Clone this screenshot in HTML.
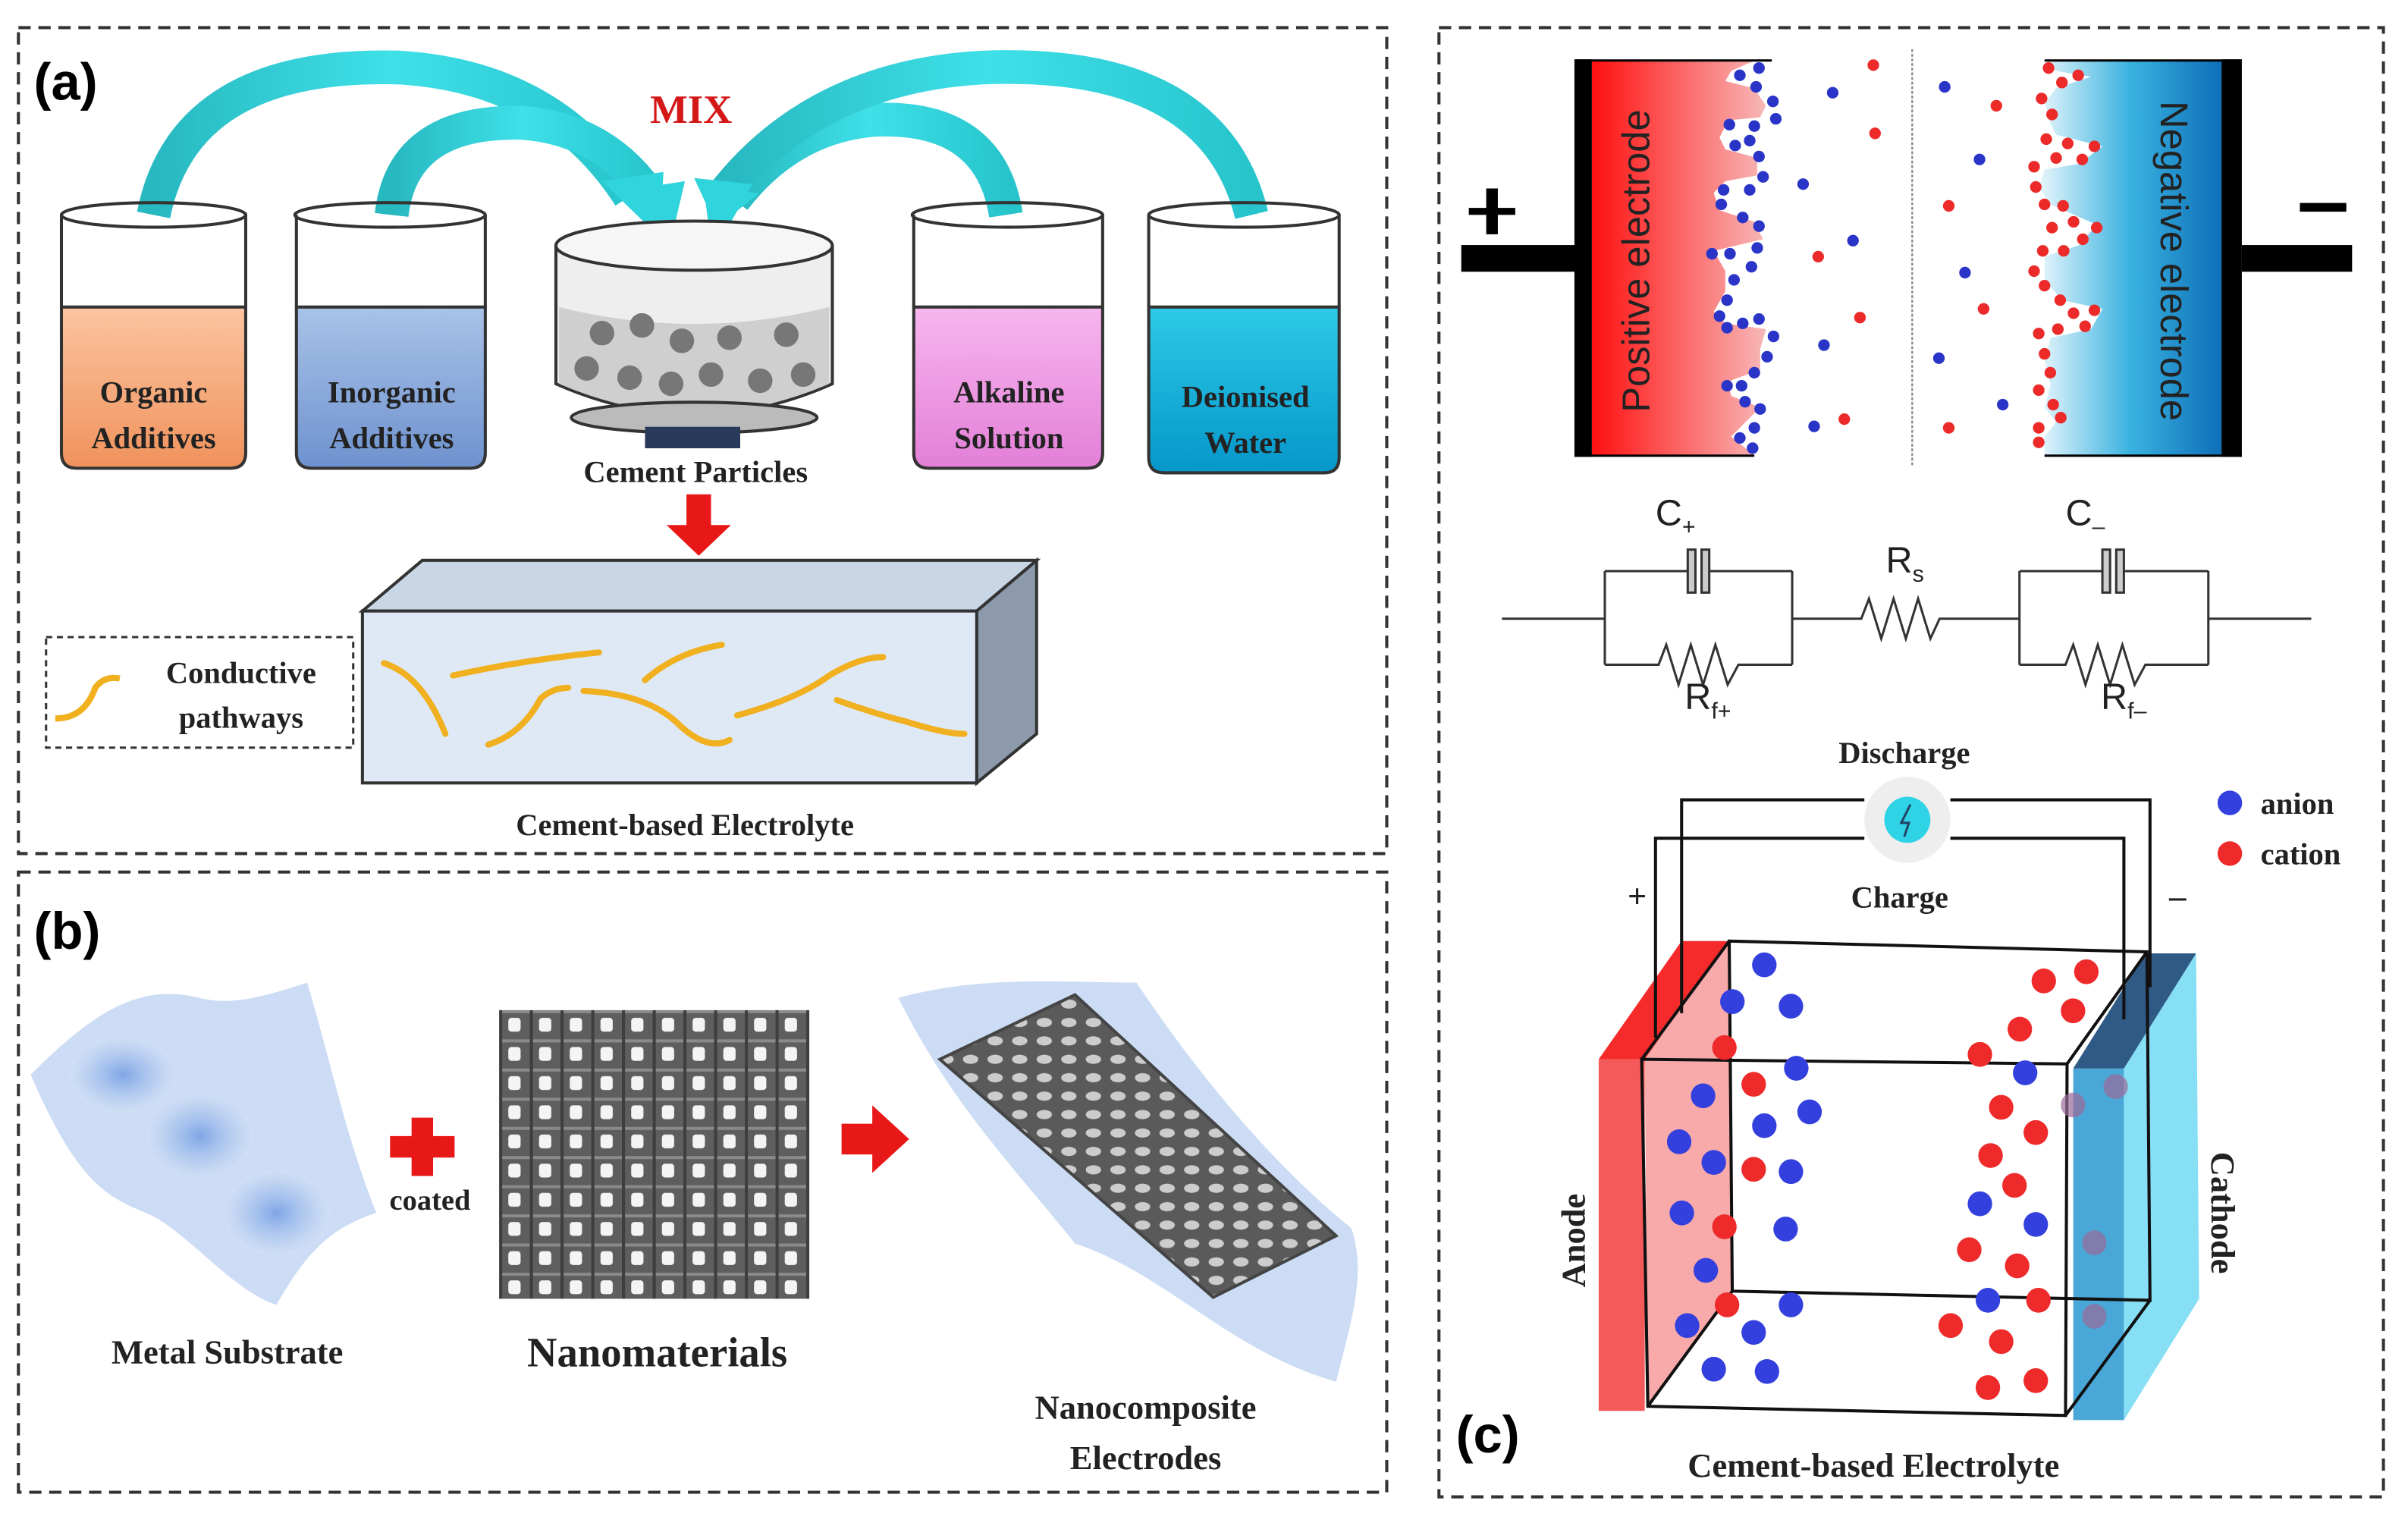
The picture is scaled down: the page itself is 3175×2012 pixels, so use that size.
<!DOCTYPE html>
<html><head><meta charset="utf-8"><style>
html,body{margin:0;padding:0;background:#fff;}
svg{display:block;}
.s{font-family:"Liberation Serif",serif;font-weight:bold;fill:#222;}
.a{font-family:"Liberation Sans",sans-serif;}
</style></head><body>
<svg width="3175" height="2012" viewBox="0 0 1568 994" preserveAspectRatio="none" xmlns="http://www.w3.org/2000/svg">
<defs>
<linearGradient id="cy" x1="0" y1="0" x2="1" y2="0"><stop offset="0" stop-color="#27b8c0"/><stop offset="0.5" stop-color="#3fe0e8"/><stop offset="1" stop-color="#27c4cc"/></linearGradient>
<linearGradient id="org" x1="0" y1="0" x2="0" y2="1"><stop offset="0" stop-color="#fbc4a0"/><stop offset="1" stop-color="#f0925c"/></linearGradient>
<linearGradient id="ino" x1="0" y1="0" x2="0" y2="1"><stop offset="0" stop-color="#a9c2e8"/><stop offset="1" stop-color="#6e92cf"/></linearGradient>
<linearGradient id="alk" x1="0" y1="0" x2="0" y2="1"><stop offset="0" stop-color="#f7b6ee"/><stop offset="1" stop-color="#e37fd8"/></linearGradient>
<linearGradient id="dei" x1="0" y1="0" x2="0" y2="1"><stop offset="0" stop-color="#2ec9e8"/><stop offset="1" stop-color="#0597c9"/></linearGradient>
<linearGradient id="pos" x1="0" y1="0" x2="1" y2="0"><stop offset="0" stop-color="#ff1010"/><stop offset="1" stop-color="#f8b8b8"/></linearGradient>
<linearGradient id="neg" x1="0" y1="0" x2="1" y2="0"><stop offset="0" stop-color="#e8f6fc"/><stop offset="0.5" stop-color="#3ab2e0"/><stop offset="1" stop-color="#0e6fb8"/></linearGradient>
<radialGradient id="blob"><stop offset="0" stop-color="#7fa6e6"/><stop offset="1" stop-color="#d2e0f5" stop-opacity="0.6"/></radialGradient>
<pattern id="nano" x="325" y="658" width="20" height="19" patternUnits="userSpaceOnUse">
<rect width="20" height="19" fill="#5e5e5e"/><rect x="6" y="5" width="8" height="9" rx="2" fill="#f4f4f4"/><rect x="0" y="0" width="20" height="2" fill="#8a8a8a"/><rect x="0" y="0" width="2" height="19" fill="#3e3e3e"/></pattern>
<pattern id="nano2" width="16" height="12" patternUnits="userSpaceOnUse">
<rect width="16" height="12" fill="#5a5a5a"/><ellipse cx="8" cy="6" rx="5" ry="3" fill="#ccc"/></pattern>
</defs>

<g fill="none" stroke="#333" stroke-width="2" stroke-dasharray="8,5">
<rect x="12" y="18" width="891" height="538"/>
<rect x="12" y="568" width="891" height="404"/>
<rect x="937" y="18" width="615" height="957"/>
</g>

<text x="22" y="65" class="a" font-size="34" font-weight="bold">(a)</text>
<text x="450" y="80" class="s" font-size="26" text-anchor="middle" style="fill:#d41818">MIX</text>
<g fill="none" stroke="url(#cy)" stroke-width="22" stroke-linecap="butt">
<path d="M100,140 Q120,40 260,44 Q360,50 410,128"/>
<path d="M255,140 Q262,78 340,80 Q395,84 425,130"/>
<path d="M655,140 Q645,75 570,78 Q515,82 478,130"/>
<path d="M815,140 Q790,38 640,44 Q530,50 470,128"/>
</g>
<g fill="#30d4dc">
<polygon points="392,118 432,112 430,155"/>
<polygon points="408,124 446,118 438,152"/>
<polygon points="458,120 494,126 462,152"/>
<polygon points="452,116 490,120 470,155"/>
</g>
<g stroke="#333" stroke-width="2">
<path d="M40,200 L40,295 Q40,305 50,305 L150,305 Q160,305 160,295 L160,200 Z" fill="url(#org)"/>
<path d="M193,200 L193,295 Q193,305 203,305 L306,305 Q316,305 316,295 L316,200 Z" fill="url(#ino)"/>
<path d="M595,200 L595,295 Q595,305 605,305 L708,305 Q718,305 718,295 L718,200 Z" fill="url(#alk)"/>
<path d="M748,200 L748,298 Q748,308 758,308 L862,308 Q872,308 872,298 L872,200 Z" fill="url(#dei)"/>
</g>
<g fill="none" stroke="#333" stroke-width="2">
<path d="M40,140 L40,200 M160,140 L160,200"/><ellipse cx="100" cy="140" rx="60" ry="8"/>
<path d="M193,140 L193,200 M316,140 L316,200"/><ellipse cx="254" cy="140" rx="62" ry="8"/>
<path d="M595,140 L595,200 M718,140 L718,200"/><ellipse cx="656" cy="140" rx="62" ry="8"/>
<path d="M748,140 L748,200 M872,140 L872,200"/><ellipse cx="810" cy="140" rx="62" ry="8"/>
</g>
<g class="s" font-size="20" text-anchor="middle">
<text x="100" y="262">Organic</text><text x="100" y="292">Additives</text>
<text x="255" y="262">Inorganic</text><text x="255" y="292">Additives</text>
<text x="657" y="262">Alkaline</text><text x="657" y="292">Solution</text>
<text x="811" y="265">Deionised</text><text x="811" y="295">Water</text>
</g>
<path d="M362,160 L362,250 Q452,290 542,250 L542,160" fill="#eee" stroke="#333" stroke-width="2"/>
<path d="M364,200 L364,250 Q452,288 540,250 L540,200 Q452,222 364,200Z" fill="#cfcfcf"/>
<ellipse cx="452" cy="160" rx="90" ry="16" fill="#f6f6f6" stroke="#333" stroke-width="2"/>
<ellipse cx="452" cy="272" rx="80" ry="10" fill="#bbb" stroke="#333" stroke-width="2"/>
<rect x="420" y="278" width="62" height="14" fill="#2a3a5a"/>
<g fill="#777">
<circle cx="392" cy="217" r="8"/><circle cx="418" cy="212" r="8"/><circle cx="444" cy="222" r="8"/><circle cx="475" cy="220" r="8"/><circle cx="512" cy="218" r="8"/>
<circle cx="382" cy="240" r="8"/><circle cx="410" cy="246" r="8"/><circle cx="437" cy="250" r="8"/><circle cx="463" cy="244" r="8"/><circle cx="495" cy="248" r="8"/><circle cx="523" cy="244" r="8"/>
</g>
<text x="453" y="314" class="s" font-size="20" text-anchor="middle">Cement Particles</text>
<path d="M447,322 L463,322 L463,342 L476,342 L455,362 L434,342 L447,342Z" fill="#e81818"/>
<polygon points="236,398 275,365 675,365 636,398" fill="#c9d6e6" stroke="#333" stroke-width="2"/>
<polygon points="636,398 675,365 675,478 636,510" fill="#8c9aab" stroke="#333" stroke-width="2"/>
<rect x="236" y="398" width="400" height="112" fill="#dfe9f6" stroke="#333" stroke-width="2"/>
<g fill="none" stroke="#f0b020" stroke-width="4" stroke-linecap="round">
<path d="M250,432 Q275,440 290,478"/>
<path d="M295,440 Q340,430 390,425"/>
<path d="M318,485 Q340,478 352,455 Q360,448 370,448"/>
<path d="M380,450 Q420,452 440,470 Q460,490 475,482"/>
<path d="M420,443 Q440,425 470,420"/>
<path d="M480,466 Q520,455 540,440 Q560,428 575,428"/>
<path d="M545,456 Q570,465 590,470 Q615,478 628,478"/>
</g>
<rect x="30" y="415" width="200" height="72" fill="none" stroke="#333" stroke-width="1.5" stroke-dasharray="4,3"/>
<path d="M36,468 Q55,468 62,448 Q68,440 78,442" fill="none" stroke="#f0b020" stroke-width="4"/>
<text x="157" y="445" class="s" font-size="20" text-anchor="middle">Conductive</text>
<text x="157" y="474" class="s" font-size="20" text-anchor="middle">pathways</text>
<text x="446" y="544" class="s" font-size="20" text-anchor="middle">Cement-based Electrolyte</text>

<text x="22" y="618" class="a" font-size="34" font-weight="bold">(b)</text>
<path d="M20,700 C60,660 90,640 130,650 C150,655 170,650 200,640 C215,690 225,740 245,790 C215,800 200,815 180,850 C150,840 120,800 95,790 C70,780 50,770 20,700Z" fill="#cbdcf4"/>
<ellipse cx="80" cy="700" rx="35" ry="25" fill="url(#blob)"/>
<ellipse cx="130" cy="740" rx="35" ry="28" fill="url(#blob)"/>
<ellipse cx="180" cy="790" rx="35" ry="28" fill="url(#blob)"/>
<text x="148" y="888" class="s" font-size="22" text-anchor="middle">Metal Substrate</text>
<path d="M268,728 L282,728 L282,740 L296,740 L296,754 L282,754 L282,766 L268,766 L268,754 L254,754 L254,740 L268,740Z" fill="#e81818"/>
<text x="280" y="788" class="s" font-size="19" text-anchor="middle">coated</text>
<rect x="325" y="658" width="202" height="188" fill="url(#nano)"/>
<text x="428" y="890" class="s" font-size="27" text-anchor="middle">Nanomaterials</text>
<path d="M548,732 L568,732 L568,720 L592,742 L568,764 L568,752 L548,752Z" fill="#e81818"/>
<path d="M585,650 C640,635 690,640 740,640 C780,700 830,760 880,800 C890,830 880,860 870,900 C800,880 760,830 700,810 C660,760 620,720 585,650Z" fill="#c2d6f2" opacity="0.85"/>
<polygon points="612,690 700,648 870,805 790,845" fill="url(#nano2)" stroke="#444" stroke-width="2"/>
<text x="746" y="924" class="s" font-size="22" text-anchor="middle">Nanocomposite</text>
<text x="746" y="957" class="s" font-size="22" text-anchor="middle">Electrodes</text>

<g transform="translate(938.3,19.75) scale(0.3779,0.189)">
<path d="M260,105 L540,105 L500,140 L490,175 L540,200 L560,260 L550,300 L495,310 L480,370 L490,410 L545,440 L545,500 L490,520 L470,560 L480,620 L540,660 L555,720 L470,760 L490,830 L490,900 L470,970 L490,1010 L560,1030 L550,1100 L550,1170 L495,1210 L500,1260 L550,1300 L520,1360 L500,1400 L540,1465 L260,1465Z" fill="url(#pos)"/>
<path d="M1345,105 L1040,105 L1060,140 L1120,160 L1060,200 L1040,250 L1050,320 L1060,360 L1140,400 L1100,460 L1040,480 L1030,540 L1050,600 L1130,670 L1100,740 L1040,780 L1040,860 L1070,930 L1140,960 L1120,1030 L1050,1060 L1040,1140 L1050,1220 L1040,1300 L1060,1350 L1040,1400 L1040,1465 L1345,1465Z" fill="url(#neg)"/>
<rect x="230" y="100" width="30" height="1370" fill="#000"/>
<rect x="230" y="100" width="340" height="8" fill="#000"/>
<rect x="230" y="1462" width="310" height="8" fill="#000"/>
<rect x="35" y="740" width="200" height="92" fill="#000"/>
<rect x="48" y="612" width="80" height="24" fill="#000"/><rect x="78" y="545" width="20" height="158" fill="#000"/>
<rect x="1345" y="100" width="35" height="1370" fill="#000"/>
<rect x="1040" y="100" width="340" height="8" fill="#000"/>
<rect x="1040" y="1462" width="340" height="8" fill="#000"/>
<rect x="1380" y="740" width="190" height="92" fill="#000"/>
<rect x="1480" y="595" width="80" height="30" fill="#000"/>
<line x1="812" y1="65" x2="812" y2="1505" stroke="#888" stroke-width="3" stroke-dasharray="10,6"/>
<g fill="#2a35c8">
<ellipse cx="515" cy="155" rx="10" ry="20"/><ellipse cx="548" cy="130" rx="10" ry="20"/><ellipse cx="543" cy="195" rx="10" ry="20"/><ellipse cx="572" cy="245" rx="10" ry="20"/><ellipse cx="577" cy="305" rx="10" ry="20"/><ellipse cx="497" cy="325" rx="10" ry="20"/><ellipse cx="540" cy="330" rx="10" ry="20"/><ellipse cx="532" cy="380" rx="10" ry="20"/><ellipse cx="507" cy="397" rx="10" ry="20"/><ellipse cx="548" cy="435" rx="10" ry="20"/><ellipse cx="555" cy="505" rx="10" ry="20"/><ellipse cx="487" cy="550" rx="10" ry="20"/><ellipse cx="532" cy="550" rx="10" ry="20"/><ellipse cx="483" cy="600" rx="10" ry="20"/><ellipse cx="520" cy="645" rx="10" ry="20"/><ellipse cx="548" cy="675" rx="10" ry="20"/><ellipse cx="545" cy="750" rx="10" ry="20"/><ellipse cx="467" cy="770" rx="10" ry="20"/><ellipse cx="498" cy="770" rx="10" ry="20"/><ellipse cx="535" cy="815" rx="10" ry="20"/><ellipse cx="505" cy="860" rx="10" ry="20"/><ellipse cx="493" cy="930" rx="10" ry="20"/><ellipse cx="480" cy="985" rx="10" ry="20"/><ellipse cx="520" cy="1010" rx="10" ry="20"/><ellipse cx="548" cy="995" rx="10" ry="20"/><ellipse cx="493" cy="1025" rx="10" ry="20"/><ellipse cx="573" cy="1055" rx="10" ry="20"/><ellipse cx="562" cy="1125" rx="10" ry="20"/><ellipse cx="540" cy="1180" rx="10" ry="20"/><ellipse cx="493" cy="1225" rx="10" ry="20"/><ellipse cx="518" cy="1225" rx="10" ry="20"/><ellipse cx="524" cy="1280" rx="10" ry="20"/><ellipse cx="550" cy="1305" rx="10" ry="20"/><ellipse cx="540" cy="1370" rx="10" ry="20"/><ellipse cx="515" cy="1405" rx="10" ry="20"/><ellipse cx="537" cy="1440" rx="10" ry="20"/><ellipse cx="675" cy="215" rx="10" ry="20"/><ellipse cx="624" cy="530" rx="10" ry="20"/><ellipse cx="710" cy="725" rx="10" ry="20"/><ellipse cx="660" cy="1085" rx="10" ry="20"/><ellipse cx="643" cy="1365" rx="10" ry="20"/>
<ellipse cx="868" cy="195" rx="10" ry="20"/><ellipse cx="928" cy="445" rx="10" ry="20"/><ellipse cx="903" cy="835" rx="10" ry="20"/><ellipse cx="858" cy="1130" rx="10" ry="20"/><ellipse cx="968" cy="1290" rx="10" ry="20"/>
</g>
<g fill="#ec2a2a">
<ellipse cx="745" cy="120" rx="10" ry="20"/><ellipse cx="748" cy="355" rx="10" ry="20"/><ellipse cx="650" cy="780" rx="10" ry="20"/><ellipse cx="722" cy="990" rx="10" ry="20"/><ellipse cx="695" cy="1340" rx="10" ry="20"/>
<ellipse cx="957" cy="260" rx="10" ry="20"/><ellipse cx="875" cy="605" rx="10" ry="20"/><ellipse cx="935" cy="960" rx="10" ry="20"/><ellipse cx="875" cy="1370" rx="10" ry="20"/>
<ellipse cx="1047" cy="130" rx="10" ry="20"/><ellipse cx="1070" cy="180" rx="10" ry="20"/><ellipse cx="1098" cy="155" rx="10" ry="20"/><ellipse cx="1035" cy="235" rx="10" ry="20"/><ellipse cx="1053" cy="290" rx="10" ry="20"/><ellipse cx="1043" cy="375" rx="10" ry="20"/><ellipse cx="1080" cy="390" rx="10" ry="20"/><ellipse cx="1126" cy="400" rx="10" ry="20"/><ellipse cx="1060" cy="440" rx="10" ry="20"/><ellipse cx="1105" cy="445" rx="10" ry="20"/><ellipse cx="1022" cy="470" rx="10" ry="20"/><ellipse cx="1025" cy="540" rx="10" ry="20"/><ellipse cx="1040" cy="600" rx="10" ry="20"/><ellipse cx="1072" cy="605" rx="10" ry="20"/><ellipse cx="1053" cy="680" rx="10" ry="20"/><ellipse cx="1090" cy="660" rx="10" ry="20"/><ellipse cx="1130" cy="680" rx="10" ry="20"/><ellipse cx="1037" cy="760" rx="10" ry="20"/><ellipse cx="1073" cy="760" rx="10" ry="20"/><ellipse cx="1106" cy="720" rx="10" ry="20"/><ellipse cx="1022" cy="830" rx="10" ry="20"/><ellipse cx="1040" cy="880" rx="10" ry="20"/><ellipse cx="1067" cy="930" rx="10" ry="20"/><ellipse cx="1090" cy="975" rx="10" ry="20"/><ellipse cx="1126" cy="965" rx="10" ry="20"/><ellipse cx="1063" cy="1030" rx="10" ry="20"/><ellipse cx="1110" cy="1020" rx="10" ry="20"/><ellipse cx="1030" cy="1045" rx="10" ry="20"/><ellipse cx="1040" cy="1115" rx="10" ry="20"/><ellipse cx="1050" cy="1180" rx="10" ry="20"/><ellipse cx="1030" cy="1240" rx="10" ry="20"/><ellipse cx="1055" cy="1290" rx="10" ry="20"/><ellipse cx="1068" cy="1335" rx="10" ry="20"/><ellipse cx="1030" cy="1370" rx="10" ry="20"/><ellipse cx="1030" cy="1420" rx="10" ry="20"/>
</g>
</g>
<text transform="translate(1074,170) rotate(-90)" class="a" font-size="25" text-anchor="middle" fill="#222">Positive electrode</text>
<text transform="translate(1407,170) rotate(90)" class="a" font-size="25" text-anchor="middle" fill="#222">Negative electrode</text>

<g fill="none" stroke="#333" stroke-width="1.5">
<path d="M978,403 L1045,403 M1045,372 L1045,433 M1167,372 L1167,433 M1045,372 L1100,372 M1112,372 L1167,372 M1045,433 L1080,433 L1085,420 L1093,446 L1101,420 L1109,446 L1117,420 L1125,446 L1132,433 L1167,433"/>
<path d="M1167,403 L1212,403 L1217,390 L1225,416 L1233,390 L1241,416 L1249,390 L1257,416 L1263,403 L1315,403"/>
<path d="M1315,372 L1315,433 M1438,372 L1438,433 M1315,372 L1370,372 M1382,372 L1438,372 M1315,433 L1345,433 L1350,420 L1358,446 L1366,420 L1374,446 L1382,420 L1390,446 L1397,433 L1438,433 M1438,403 L1505,403"/>
</g>
<g fill="#ccc" stroke="#333" stroke-width="1.5">
<rect x="1099" y="358" width="5" height="28"/><rect x="1108" y="358" width="5" height="28"/>
<rect x="1369" y="358" width="5" height="28"/><rect x="1378" y="358" width="5" height="28"/>
</g>
<g class="a" font-size="24" fill="#222">
<text x="1078" y="342">C<tspan font-size="15" dy="6">+</tspan></text>
<text x="1228" y="373">R<tspan font-size="15" dy="6">s</tspan></text>
<text x="1345" y="342">C<tspan font-size="15" dy="6">–</tspan></text>
<text x="1097" y="462">R<tspan font-size="15" dy="6">f+</tspan></text>
<text x="1368" y="462">R<tspan font-size="15" dy="6">f–</tspan></text>
</g>

<polygon points="1071,690 1125,613 1128,841 1073,916" fill="#f7a0a0" opacity="0.9"/>
<polygon points="1041,690 1071,690 1071,919 1041,919" fill="#f55a5a"/>
<polygon points="1041,690 1071,690 1125,613 1095,613" fill="#f52a2a"/>
<polygon points="1383,696 1430,621 1432,846 1383,925" fill="#86dff5"/>
<polygon points="1350,696 1383,696 1383,925 1350,925" fill="#4aa8d8"/>
<polygon points="1350,696 1383,696 1430,621 1397,621" fill="#2f5a86"/>
<g fill="none" stroke="#111" stroke-width="2">
<polygon points="1126,613 1398,620 1400,847 1128,841"/>
<polygon points="1069,690 1346,693 1345,922 1073,916"/>
<path d="M1069,690 L1126,613 M1346,693 L1398,620 M1345,922 L1400,847 M1073,916 L1128,841"/>
<path d="M1095,660 L1095,521 L1214,521 M1270,521 L1400,521 L1400,643"/>
<path d="M1078,676 L1078,546 L1214,546 M1270,546 L1383,546 L1383,664"/>
</g>
<circle cx="1242" cy="534" r="28" fill="#eee"/>
<circle cx="1242" cy="534" r="15" fill="#2ed4e6"/>
<path d="M1244,524 L1238,536 L1243,536 L1240,545" fill="none" stroke="#246" stroke-width="1.5"/>
<g transform="translate(987.7,493.8) scale(0.3466,0.2993)">
<g fill="#3340dd">
<ellipse cx="465" cy="450" rx="23" ry="27"/><ellipse cx="405" cy="530" rx="23" ry="27"/><ellipse cx="515" cy="540" rx="23" ry="27"/><ellipse cx="525" cy="675" rx="23" ry="27"/><ellipse cx="350" cy="735" rx="23" ry="27"/><ellipse cx="550" cy="770" rx="23" ry="27"/><ellipse cx="465" cy="800" rx="23" ry="27"/><ellipse cx="305" cy="835" rx="23" ry="27"/><ellipse cx="370" cy="880" rx="23" ry="27"/><ellipse cx="515" cy="900" rx="23" ry="27"/><ellipse cx="310" cy="990" rx="23" ry="27"/><ellipse cx="505" cy="1025" rx="23" ry="27"/><ellipse cx="355" cy="1115" rx="23" ry="27"/><ellipse cx="515" cy="1190" rx="23" ry="27"/><ellipse cx="445" cy="1250" rx="23" ry="27"/><ellipse cx="320" cy="1235" rx="23" ry="27"/><ellipse cx="370" cy="1330" rx="23" ry="27"/><ellipse cx="470" cy="1335" rx="23" ry="27"/><ellipse cx="955" cy="685" rx="23" ry="27"/><ellipse cx="870" cy="970" rx="23" ry="27"/><ellipse cx="975" cy="1015" rx="23" ry="27"/><ellipse cx="885" cy="1180" rx="23" ry="27"/>
</g>
<g fill="#ee2a2a">
<ellipse cx="1070" cy="465" rx="23" ry="27"/><ellipse cx="990" cy="485" rx="23" ry="27"/><ellipse cx="1045" cy="550" rx="23" ry="27"/><ellipse cx="945" cy="590" rx="23" ry="27"/><ellipse cx="870" cy="645" rx="23" ry="27"/><ellipse cx="390" cy="630" rx="23" ry="27"/><ellipse cx="445" cy="710" rx="23" ry="27"/><ellipse cx="910" cy="760" rx="23" ry="27"/><ellipse cx="975" cy="815" rx="23" ry="27"/><ellipse cx="890" cy="865" rx="23" ry="27"/><ellipse cx="935" cy="930" rx="23" ry="27"/><ellipse cx="445" cy="895" rx="23" ry="27"/><ellipse cx="390" cy="1020" rx="23" ry="27"/><ellipse cx="850" cy="1070" rx="23" ry="27"/><ellipse cx="940" cy="1105" rx="23" ry="27"/><ellipse cx="980" cy="1180" rx="23" ry="27"/><ellipse cx="395" cy="1190" rx="23" ry="27"/><ellipse cx="815" cy="1235" rx="23" ry="27"/><ellipse cx="910" cy="1270" rx="23" ry="27"/><ellipse cx="885" cy="1370" rx="23" ry="27"/><ellipse cx="975" cy="1355" rx="23" ry="27"/>
</g>
<g fill="#9a6a9a" opacity="0.7">
<ellipse cx="1125" cy="715" rx="23" ry="27"/><ellipse cx="1045" cy="755" rx="23" ry="27"/><ellipse cx="1085" cy="1055" rx="23" ry="27"/><ellipse cx="1085" cy="1215" rx="23" ry="27"/>
</g>
</g>
<circle cx="1452" cy="523" r="8" fill="#3340dd"/><circle cx="1452" cy="556" r="8" fill="#ee2a2a"/>
<text x="1472" y="530" class="s" font-size="20">anion</text>
<text x="1472" y="563" class="s" font-size="20">cation</text>
<text x="1240" y="497" class="s" font-size="20" text-anchor="middle">Discharge</text>
<text x="1237" y="591" class="s" font-size="20" text-anchor="middle">Charge</text>
<text x="1066" y="591" class="s" font-size="22" text-anchor="middle">+</text>
<text x="1418" y="591" class="s" font-size="22" text-anchor="middle">–</text>
<text transform="translate(1032,808) rotate(-90)" class="s" font-size="22" text-anchor="middle">Anode</text>
<text transform="translate(1440,790) rotate(90)" class="s" font-size="22" text-anchor="middle">Cathode</text>
<text x="948" y="946" class="a" font-size="34" font-weight="bold">(c)</text>
<text x="1220" y="962" class="s" font-size="22" text-anchor="middle">Cement-based Electrolyte</text>
</svg>
</body></html>
